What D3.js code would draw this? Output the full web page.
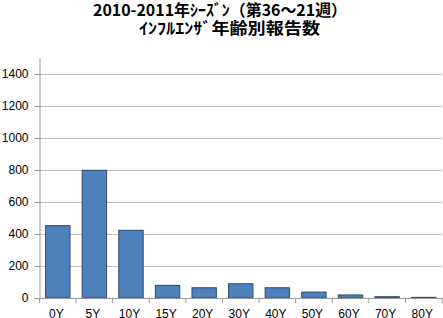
<!DOCTYPE html>
<html>
<head>
<meta charset="utf-8">
<script src="https://cdn.jsdelivr.net/npm/d3@7"></script>
<style>
  body { margin: 0; background: #fff; }
  svg { display: block; }
</style>
</head>
<body>
<div id="chart"></div>
<script>
// data
var ageGroups = ["0Y", "5Y", "10Y", "15Y", "20Y", "30Y", "40Y", "50Y", "60Y", "70Y", "80Y"];
var reports = [452, 798, 423, 79, 64, 89, 64, 37, 19, 8, 4];
var yTicks = [0, 200, 400, 600, 800, 1000, 1200, 1400];
var titleLines = ["2010-2011年ｼｰｽﾞﾝ（第36～21週）", "ｲﾝﾌﾙｴﾝｻﾞ年齢別報告数"];

var width = 443,
  height = 318;
var margin = { top: 58, right: 1, bottom: 20, left: 39.5 };

var svg = d3.select("#chart")
  .append("svg")
  .attr("width", width)
  .attr("height", height);

// TITLE (two lines, stretched to the widths seen in the picture)
var titlePos = [{ x: 93, y: 16, w: 254 }, { x: 139, y: 33.5, w: 181 }];
svg.selectAll("text.title")
  .data(titleLines)
  .enter().append("text")
  .attr("class", "title")
  .attr("x", function(d, i) { return titlePos[i].x; })
  .attr("y", function(d, i) { return titlePos[i].y; })
  .attr("textLength", function(d, i) { return titlePos[i].w; })
  .attr("lengthAdjust", "spacingAndGlyphs")
  .attr("font-family", "'Noto Sans CJK JP', sans-serif")
  .attr("font-weight", "bold")
  .attr("font-size", "16px")
  .attr("fill", "#000")
  .text(function(d) { return d; });

var x = d3.scaleBand()
  .domain(ageGroups)
  .range([margin.left, width - margin.right])
  .paddingInner(1 / 3)
  .paddingOuter(1 / 6);

var y = d3.scaleLinear()
  .domain([0, 1500])
  .range([height - margin.bottom, margin.top]);

// GRIDLINES
svg.append("g")
  .selectAll("line")
  .data(yTicks.slice(1))
  .enter().append("line")
  .attr("x1", margin.left)
  .attr("x2", width - margin.right)
  .attr("y1", function(d) { return Math.round(y(d)) + 0.5; })
  .attr("y2", function(d) { return Math.round(y(d)) + 0.5; })
  .attr("stroke", "#bfbfbf")
  .attr("stroke-width", 1);

// BARS
svg.append("g")
  .selectAll("rect")
  .data(reports)
  .enter().append("rect")
  .attr("x", function(d, i) { return x(ageGroups[i]); })
  .attr("y", function(d) { return y(d); })
  .attr("width", x.bandwidth())
  .attr("height", function(d) { return y(0) - y(d); })
  .attr("fill", "#4f81bd")
  .attr("stroke", "#2e4a6e")
  .attr("stroke-width", 1);

// Y AXIS
var yAxis = svg.append("g")
  .attr("transform", "translate(" + margin.left + ",0)")
  .call(d3.axisLeft(y).tickValues(yTicks).tickFormat(d3.format("d"))
    .tickSize(5).tickPadding(6).tickSizeOuter(0));

// X AXIS, ticks sit between categories
var step = x.step();
var bounds = d3.range(ageGroups.length + 1).map(function(i) { return margin.left + i * step; });
var xAxis = svg.append("g")
  .attr("transform", "translate(0," + y(0) + ")")
  .call(d3.axisBottom(x).tickSize(0).tickPadding(11.5).tickSizeOuter(0));

xAxis.selectAll(".tick text").attr("dx", "-1.5");
xAxis.selectAll("line.bound")
  .data(bounds)
  .enter().append("line")
  .attr("class", "bound")
  .attr("x1", function(d) { return d; })
  .attr("x2", function(d) { return d; })
  .attr("y1", 0)
  .attr("y2", 5)
  .attr("stroke", "#999");

[yAxis, xAxis].forEach(function(a) {
  a.select(".domain").attr("stroke", "#999");
  a.selectAll(".tick line").attr("stroke", "#999");
  a.selectAll("text")
    .attr("font-family", "'Liberation Sans', Arial, sans-serif")
    .attr("font-size", "12px")
    .attr("fill", "#000");
});
</script>
</body>
</html>
